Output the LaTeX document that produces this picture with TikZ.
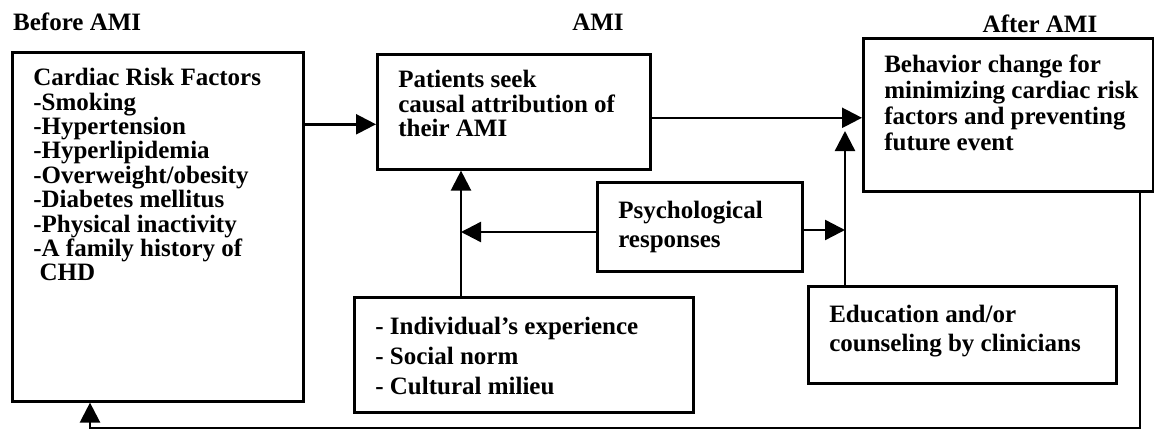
\documentclass[tikz,border=0pt]{standalone}
\usepackage{fontspec}
\setmainfont{Liberation Serif}
\usetikzlibrary{arrows.meta}
\newcommand{\boxlines}[4]{\parbox[c][#2][t]{#1}{\fontsize{25}{#3}\selectfont\begin{tabular}{@{}l@{}}#4\end{tabular}}}
\begin{document}
\begin{tikzpicture}[x=1pt,y=1pt,
  every node/.style={font=\fontsize{25}{27}\selectfont\bfseries},
  box/.style={draw,line width=2.6pt,inner xsep=21pt,inner ysep=16pt,anchor=north west},
  stage/.style={inner sep=0pt},
  arr/.style={line width=2.4pt,-{Triangle[length=20pt,width=20pt]}}]
\useasboundingbox (0,0) rectangle (1154,-431);
\node[stage,anchor=base west] (before) at (13,-30) {Before AMI};
\node[stage,anchor=base] (ami) at (598,-30) {AMI};
\node[stage,anchor=base] (afterami) at (1040,-32) {After AMI};
\node[box] (risk) at (11,-51) {\boxlines{249pt}{317pt}{23.5pt}{Cardiac Risk Factors\\-Smoking\\-Hypertension\\-Hyperlipidemia\\-Overweight/obesity\\-Diabetes mellitus\\-Physical inactivity\\-A family history of\\\ CHD}};
\node[box] (seek) at (376,-53) {\boxlines{231pt}{83pt}{23pt}{Patients seek\\causal attribution of\\their AMI}};
\node[box] (change) at (862,-37) {\boxlines{248pt}{121pt}{26pt}{Behavior change for\\minimizing cardiac risk\\factors and preventing\\future event}};
\node[box] (psych) at (596,-181) {\boxlines{163pt}{57pt}{29pt}{Psychological\\responses}};
\node[box] (indiv) at (353,-296) {\boxlines{297pt}{83pt}{30pt}{- Individual’s experience\\- Social norm\\- Cultural milieu}};
\node[box] (educ) at (807,-285) {\boxlines{266pt}{65pt}{29pt}{Education and/or\\counseling by clinicians}};
\coordinate (jl) at (461,-232);
\coordinate (jr) at (845,-230);
\coordinate (jt) at (845,-131);
\coordinate (fbr) at (1140,-428);
\coordinate (fbl) at (90,-428);
\draw[arr] ([yshift=-12.5pt]seek.west -| risk.east) -- ([yshift=-12.5pt]seek.west);
\draw[arr] ([yshift=-3pt]change.west -| seek.east) -- ([yshift=-3pt]change.west);
\draw[arr] (indiv.north -| jl) -- (seek.south -| jl);
\draw[arr] (psych.west |- jl) -- (jl);
\draw[arr] (psych.east |- jr) -- (jr);
\draw[arr] (educ.north -| jt) -- (jt);
\draw[arr] (change.south -| fbr) -- (fbr) -- (fbl) -- (risk.south -| fbl);
\end{tikzpicture}
\end{document}
